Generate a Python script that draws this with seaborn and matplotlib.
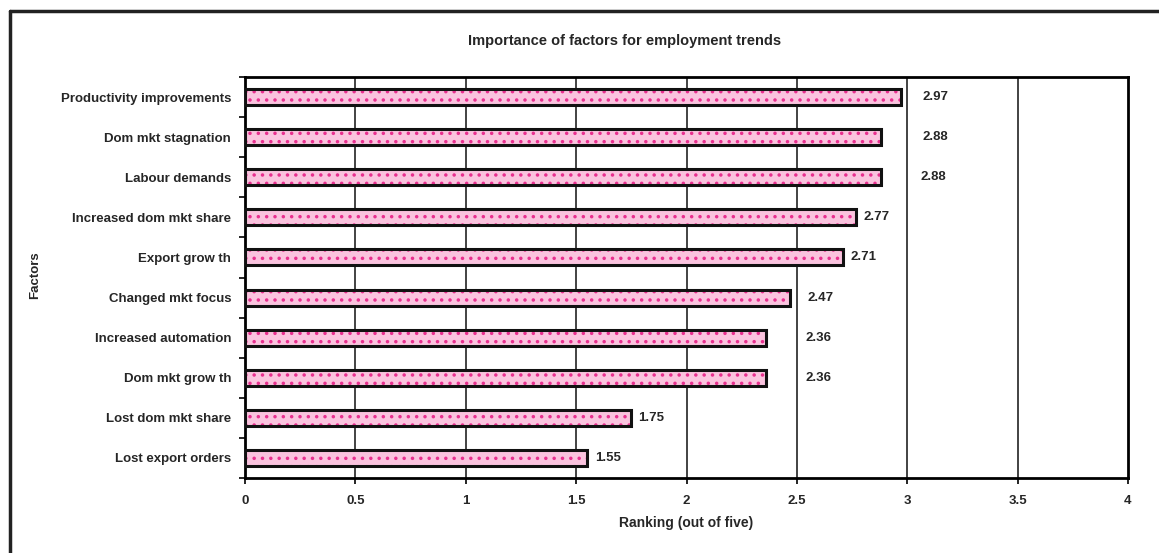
import matplotlib
matplotlib.use("Agg")
import matplotlib.pyplot as plt
import seaborn as sns
import pandas as pd
from matplotlib.lines import Line2D
from matplotlib.ticker import FixedLocator

factors = ["Productivity improvements", "Dom mkt stagnation", "Labour demands",
           "Increased dom mkt share", "Export grow th", "Changed mkt focus",
           "Increased automation", "Dom mkt grow th", "Lost dom mkt share",
           "Lost export orders"]
rankings = [2.97, 2.88, 2.88, 2.77, 2.71, 2.47, 2.36, 2.36, 1.75, 1.55]
value_labels = ["2.97", "2.88", "2.88", "2.77", "2.71", "2.47", "2.36", "2.36", "1.75", "1.55"]
x_ticks = [0, 0.5, 1, 1.5, 2, 2.5, 3, 3.5, 4]
x_tick_labels = ["0", "0.5", "1", "1.5", "2", "2.5", "3", "3.5", "4"]

# label offsets (style only)
label_offsets = [0.10, 0.19, 0.18, 0.03, 0.035, 0.08, 0.18, 0.18, 0.03, 0.035]

sns.set_theme(style="white")
plt.rcParams['font.family'] = ['Liberation Sans', 'DejaVu Sans']
plt.rcParams['hatch.linewidth'] = 1.3

df = pd.DataFrame({"Factor": factors, "Ranking": rankings})

fig = plt.figure(figsize=(11.59, 5.53), dpi=100)
ax = fig.add_axes([245/1159, 1-478/553, (1128-245)/1159, (478-77)/553])

# textured fill
sns.barplot(data=df, y="Factor", x="Ranking", orient="h", ax=ax, width=0.4,
            color="#fac3de", saturation=1, linewidth=0, edgecolor="#e8308f",
            hatch="..", zorder=3)
# outline
sns.barplot(data=df, y="Factor", x="Ranking", orient="h", ax=ax, width=0.4,
            fill=False, color="black", linewidth=2.2, edgecolor="#111111",
            zorder=4)

fs = 9.5
ax.set_xlim(0, 4)
ax.set_ylim(9.5, -0.5)
ax.xaxis.set_major_locator(FixedLocator(x_ticks))
ax.set_xticklabels(x_tick_labels, fontsize=fs, fontweight="bold")
ax.tick_params(axis="x", direction="out", length=4, width=1.2, color="black", pad=8, bottom=True)
ax.set_yticks(range(len(factors)))
ax.set_yticklabels(factors, fontsize=fs, fontweight="bold")
ax.tick_params(axis="y", which="major", length=0, pad=10)
ax.yaxis.set_minor_locator(FixedLocator([i + 0.5 for i in range(-1, len(factors))]))
ax.tick_params(axis="y", which="minor", left=True, direction="out", length=4, width=1.2, color="black")

ax.grid(False)
for xv in x_ticks[1:-1]:
    ax.axvline(xv, color="#222222", lw=1.2, zorder=1)

for s in ax.spines.values():
    s.set_visible(True)
    s.set_color("black")
    s.set_linewidth(2)

ax.set_ylabel("")
ax.set_xlabel("Ranking (out of five)", fontsize=10, fontweight="bold", labelpad=7)

for i, (v, lab, off) in enumerate(zip(rankings, value_labels, label_offsets)):
    ax.text(v + off, i, lab, va="center", ha="left", fontsize=fs, fontweight="bold", zorder=5)

fig.text(625/1159, 1-41/553, "Importance of factors for employment trends",
         ha="center", va="center", fontsize=10.5, fontweight="bold")
fig.text(35/1159, 1-275/553, "Factors", rotation=90, ha="center", va="center",
         fontsize=fs, fontweight="bold")

# outer frame
fig.add_artist(Line2D([10/1159, 1.0], [1-11/553, 1-11/553], color="#222222", lw=2.5,
                      transform=fig.transFigure))
fig.add_artist(Line2D([10/1159, 10/1159], [0.0, 1-11/553], color="#222222", lw=2.5,
                      transform=fig.transFigure))

fig.savefig("out.png", dpi=100)
